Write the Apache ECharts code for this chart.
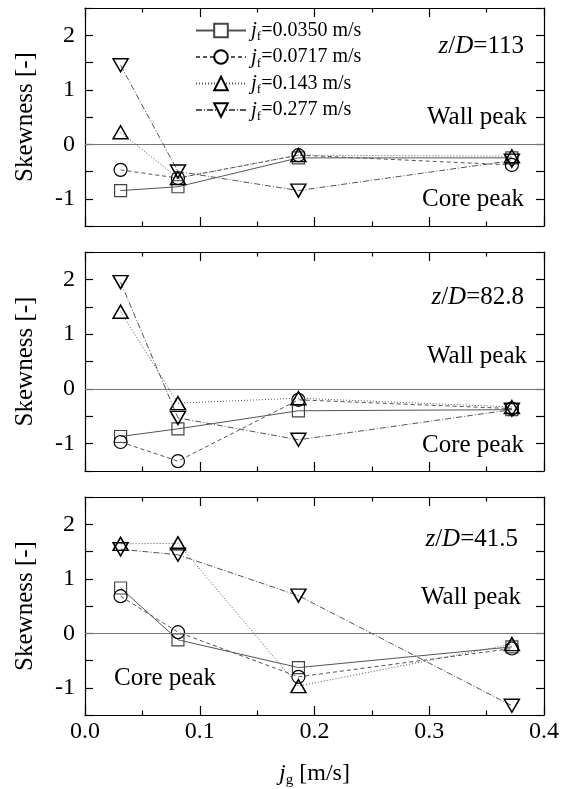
<!DOCTYPE html>
<html>
<head>
<meta charset="utf-8">
<script src="https://cdn.jsdelivr.net/npm/echarts@6/dist/echarts.min.js"></script>
<style>
  html, body { margin: 0; padding: 0; background: #fff; }
  #chart { width: 569px; height: 789px; }
</style>
</head>
<body>
<div id="chart"></div>
<script>
// Superficial gas velocity j_g [m/s] at the measurement points
const jg = [0.031, 0.081, 0.186, 0.372];
// Liquid velocities j_f [m/s], one series per value
const jfLabels = ['0.0350', '0.0717', '0.143', '0.277'];
// Axial locations z/D, one panel per value
const zdLabels = ['113', '82.8', '41.5'];

// Skewness of the void fraction profile, rows follow jfLabels
const skewZD113 = [
  [-0.85, -0.78, -0.25, -0.25],
  [-0.47, -0.62, -0.20, -0.38],
  [ 0.22, -0.62, -0.20, -0.22],
  [ 1.45, -0.50, -0.85, -0.30]
];
const skewZD828 = [
  [-0.87, -0.73, -0.40, -0.38],
  [-0.97, -1.32, -0.20, -0.36],
  [ 1.41, -0.26, -0.17, -0.33],
  [ 1.95, -0.53, -0.93, -0.38]
];
const skewZD415 = [
  [ 0.83, -0.12, -0.63, -0.25],
  [ 0.68,  0.02, -0.80, -0.28],
  [ 1.64,  1.65, -0.97, -0.20],
  [ 1.54,  1.44,  0.69, -1.33]
];
const panels = [skewZD113, skewZD828, skewZD415];

const FONT = 'Liberation Serif';
const grids = [
  { left: 85, right: 25, top: 8, height: 218 },
  { left: 85, right: 25, top: 252, height: 219 },
  { left: 85, right: 25, top: 497, height: 219 }
];

const axisColor = { color: '#000', width: 1.2 };
const symbols = ['rect', 'circle', 'triangle', 'triangle'];
const symbolSizes = [12, 13, [15, 13], [15, 13]];
const symbolRotates = [0, 0, 0, 180];
const dashes = ['solid', [4, 3], [1, 2], [6, 2, 1, 2]];

const xAxes = [];
const yAxes = [];
grids.forEach((g, p) => {
  ['bottom', 'top'].forEach(pos => {
    xAxes.push({
      gridIndex: p, type: 'value', position: pos, min: 0, max: 0.4, interval: 0.1,
      axisLine: { onZero: false, lineStyle: axisColor },
      axisTick: { inside: true, length: 9, lineStyle: axisColor },
      minorTick: { show: true, splitNumber: 2, length: 4.5, lineStyle: axisColor },
      splitLine: { show: false },
      axisLabel: {
        show: pos === 'bottom' && p === 2, margin: 5,
        color: '#000', fontFamily: FONT, fontSize: 24,
        formatter: v => v.toFixed(1)
      },
      name: pos === 'bottom' && p === 2 ? '{i|j}{s|g} [m/s]' : '',
      nameLocation: 'middle', nameGap: 44,
      nameTextStyle: {
        color: '#000', fontFamily: FONT, fontSize: 24,
        rich: {
          i: { fontStyle: 'italic', fontFamily: FONT, fontSize: 24, color: '#000' },
          s: { fontFamily: FONT, fontSize: 15, color: '#000', verticalAlign: 'bottom', padding: [14, 0, 0, 0] }
        }
      }
    });
  });
  ['left', 'right'].forEach(pos => {
    yAxes.push({
      gridIndex: p, type: 'value', position: pos, min: -1.5, max: 2.5, interval: 0.5,
      axisLine: { onZero: false, lineStyle: axisColor },
      axisTick: { inside: true, length: 8, lineStyle: axisColor },
      splitLine: { show: false },
      axisLabel: {
        show: pos === 'left', margin: 10,
        color: '#000', fontFamily: FONT, fontSize: 24,
        formatter: v => (Number.isInteger(v) ? String(v) : '')
      },
      name: pos === 'left' ? 'Skewness [-]' : '',
      nameLocation: 'middle', nameRotate: 90, nameGap: 47,
      nameTextStyle: { color: '#000', fontFamily: FONT, fontSize: 25 }
    });
  });
});

const series = [];
panels.forEach((rows, p) => {
  rows.forEach((vals, k) => {
    const s = {
      type: 'line',
      name: jfLabels[k],
      xAxisIndex: p * 2,
      yAxisIndex: p * 2,
      data: jg.map((x, i) => [x, vals[i]]),
      symbol: symbols[k],
      symbolSize: symbolSizes[k],
      symbolRotate: symbolRotates[k],
      showAllSymbol: true,
      lineStyle: { color: '#555', width: 1, type: dashes[k] },
      itemStyle: {
        color: 'rgba(255,255,255,0)',
        borderColor: k === 0 ? '#444' : '#000',
        borderWidth: k >= 2 ? 1.5 : 1.2
      },
      emphasis: { disabled: true },
      z: 3 + k
    };
    if (k === 0) {
      s.markLine = {
        silent: true, symbol: 'none', animation: false,
        label: { show: false },
        lineStyle: { color: '#777', width: 1, type: 'solid' },
        data: [{ yAxis: 0 }]
      };
    }
    series.push(s);
  });
});

const annoRich = {
  i: { fontStyle: 'italic', fontFamily: FONT, fontSize: 25, color: '#000' }
};
const annoStyle = { fontFamily: FONT, fontSize: 25, fontWeight: 'normal', color: '#000', rich: annoRich };
const zdTop = [34, 285, 527];
const wallTop = [105, 344, 585];
const coreTop = [187, 433, 666];
const titles = [];
zdLabels.forEach((z, p) => {
  titles.push({ text: '{i|z}/{i|D}=' + z, right: p === 2 ? 51 : 45, top: zdTop[p], padding: 0, textStyle: annoStyle });
  titles.push({ text: 'Wall peak', right: p === 2 ? 48 : 42, top: wallTop[p], padding: 0, textStyle: annoStyle });
  if (p < 2) {
    titles.push({ text: 'Core peak', right: 45, top: coreTop[p], padding: 0, textStyle: annoStyle });
  } else {
    titles.push({ text: 'Core peak', left: 114, top: coreTop[p], padding: 0, textStyle: annoStyle });
  }
});

const chart = echarts.init(document.getElementById('chart'), null, { renderer: 'canvas' });
chart.setOption({
  animation: false,
  backgroundColor: '#fff',
  textStyle: { fontFamily: FONT },
  title: titles,
  grid: grids,
  xAxis: xAxes,
  yAxis: yAxes,
  legend: {
    orient: 'vertical', left: 195, top: 20, padding: 0,
    itemWidth: 50, itemHeight: 17, itemGap: 3,
    data: jfLabels.map(n => ({ name: n, itemStyle: { color: '#fff' } })),
    formatter: n => '{i|j}{s|f}=' + n + ' m/s',
    textStyle: {
      color: '#000', fontFamily: FONT, fontSize: 20, padding: [0, 0, 0, 0],
      rich: {
        i: { fontStyle: 'italic', fontFamily: FONT, fontSize: 21, color: '#000' },
        s: { fontFamily: FONT, fontSize: 13, color: '#000', verticalAlign: 'bottom', padding: [13, 0, 0, 0] }
      }
    }
  },
  series: series
});
</script>
</body>
</html>
